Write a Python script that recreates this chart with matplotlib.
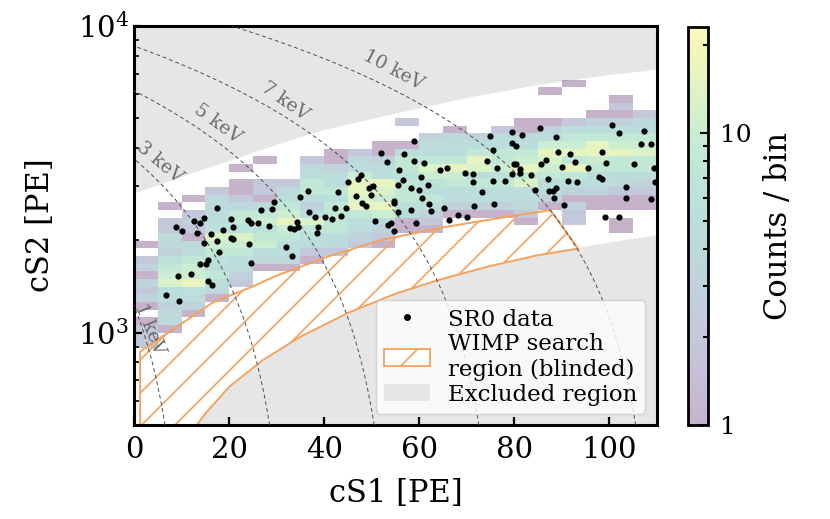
import numpy as np
import matplotlib
matplotlib.use("Agg")
import matplotlib.pyplot as plt
from matplotlib.colors import LogNorm
from matplotlib.patches import Patch, Polygon
from matplotlib.lines import Line2D
from matplotlib.ticker import NullFormatter

plt.rcParams['font.family'] = 'serif'
plt.rcParams['font.serif'] = ['DejaVu Serif']
plt.rcParams['mathtext.fontset'] = 'dejavuserif'
plt.rcParams['hatch.linewidth'] = 1.2

# SR0 events (cS1, cS2)
cs1 = [17.5, 26.7, 14.7, 12.6, 13.8, 20.4, 23.9, 24.7, 26.1, 28.3, 8.9, 10.2, 20.8, 18.7, 13.3, 16.1,
       20.5, 20.8, 17.5, 14.7, 24.1, 17.9, 15.6, 13.8, 15.2, 24.6, 11.9, 9.3, 15.6, 16.4, 6.8, 9.5,
       51.9, 53.3, 55.8, 47.7, 47.1, 45.1, 50.3, 49.4, 55.6, 36.7, 42.9, 34.9, 46.7, 49.9, 29.5, 54.7,
       54.7, 47.9, 48.8, 29.0, 42.3, 44.5, 36.8, 55.5, 38.0, 40.1, 43.6, 41.7, 34.3, 32.8, 33.7, 34.6,
       38.8, 38.4, 50.7, 54.1, 53.4, 54.6, 31.9, 33.2,
       79.6, 81.7, 74.9, 58.9, 79.6, 80.3, 75.6, 56.9, 74.3, 58.9, 61.1, 80.0, 80.4, 81.1, 81.3, 64.4,
       65.8, 76.3, 69.6, 71.4, 79.6, 60.4, 56.5, 71.4, 75.5, 78.0, 61.9, 58.3, 59.9, 73.3, 60.6, 62.0,
       75.8, 71.6, 58.3, 62.5, 65.2, 68.1, 70.0, 66.2, 59.4,
       85.5, 100.6, 102.0, 107.2, 88.8, 106.7, 108.8, 89.2, 91.8, 98.5, 86.6, 85.6, 92.7, 99.2, 105.2,
       90.0, 95.6, 109.4, 83.5, 97.9, 98.5, 87.1, 91.3, 93.2, 109.5, 88.8, 84.3, 87.4, 88.2, 103.4,
       88.4, 103.5, 108.8, 90.5, 99.1, 102.0]
cs2 = [2541, 2506, 2361, 2317, 2275, 2344, 2328, 2275, 2286, 2228, 2218, 2148, 2203, 2158, 2113, 2096,
       2029, 2018, 1995, 1968, 1950, 1837, 1730, 1675, 1671, 1683, 1556, 1535, 1472, 1435, 1331, 1264,
       3864, 3606, 3404, 3273, 3162, 3092, 3018, 2972, 3027, 2906, 2876, 2780, 2799, 2805, 2667, 2690,
       2643, 2643, 2590, 2529, 2559, 2541, 2467, 2467, 2377, 2388, 2405, 2344, 2297, 2191, 2177, 2218,
       2203, 2118, 2312, 2286, 2248, 2153, 1905, 1782,
       4508, 4396, 4375, 4227, 4159, 4055, 3954, 3811, 3625, 3625, 3581, 3536, 3556, 3427, 3326, 3404,
       3434, 3434, 3326, 3283, 3283, 3214, 3148, 3111, 3119, 3133, 3027, 2958, 2911, 2876, 2748, 2636,
       2636, 2588, 2512, 2494, 2541, 2415, 2375, 2333, 2286,
       4656, 4745, 4485, 4539, 4355, 4111, 4121, 3890, 3831, 3870, 3648, 3556, 3606, 3581, 3556,
       3475, 3451, 3451, 3273, 3214, 3177, 3162, 3133, 3111, 3111, 2972, 2911, 2897, 2897, 2979,
       2742, 2742, 2729, 2612, 2377, 2377]

# 2D histogram: 5 PE columns, rows of 0.025 in log10(cS2) from 10^2.7
x_edges = np.arange(0, 115, 5)
y_edges = 10 ** (2.7 + 0.025 * np.arange(53))
first_row = [10, 12, 14, 16, 18, 20, 20, 21, 22, 23, 23, 25, 25, 27, 27, 27, 26, 28, 26, 28, 25, 28]
col_counts = [
    [2, 2, 2, 1, 0, 1, 3, 2, 3, 1, 3, 2, 0, 1],
    [1, 4, 4, 3, 5, 5, 13, 10, 8, 6, 3, 4, 4, 2, 2, 0, 1],
    [1, 3, 5, 6, 16, 10, 10, 8, 5, 4, 1, 2, 3, 2, 0, 1],
    [1, 4, 5, 8, 5, 6, 8, 10, 13, 6, 5, 5, 4, 4, 2],
    [2, 3, 5, 5, 8, 10, 13, 6, 8, 8, 4, 2, 1, 1, 0, 1],
    [1, 4, 5, 10, 8, 6, 10, 8, 4, 1, 2, 2, 0, 0, 1],
    [1, 4, 5, 5, 8, 10, 16, 10, 8, 5, 4, 2],
    [1, 2, 5, 5, 8, 13, 5, 3, 5, 8, 8, 5, 4, 2],
    [2, 4, 5, 8, 8, 8, 8, 5, 8, 5, 5, 3, 1, 1],
    [2, 3, 5, 5, 8, 16, 13, 16, 16, 10, 5, 4, 2],
    [1, 2, 3, 4, 10, 16, 10, 13, 16, 5, 5, 3, 1, 1],
    [1, 1, 5, 5, 8, 8, 8, 6, 8, 8, 5, 1, 0, 0, 2],
    [1, 2, 3, 5, 8, 5, 6, 10, 13, 8, 5, 5, 3],
    [1, 3, 5, 5, 8, 10, 16, 8, 5, 5, 4, 1],
    [1, 3, 5, 5, 8, 5, 13, 16, 8, 5, 3],
    [1, 3, 5, 5, 8, 6, 10, 8, 8, 5, 5, 2],
    [1, 2, 4, 5, 5, 13, 8, 16, 10, 8, 5, 4, 1, 1],
    [1, 3, 5, 5, 8, 10, 13, 16, 10, 5, 3, 1, 0, 0, 0, 1],
    [2, 2, 3, 1, 3, 5, 8, 16, 8, 16, 10, 8, 5, 2, 0, 0, 0, 0, 1],
    [1, 1, 3, 5, 5, 8, 10, 16, 16, 8, 5, 3, 1],
    [1, 1, 0, 1, 1, 2, 4, 5, 8, 8, 16, 10, 8, 5, 3, 1, 2, 1],
    [1, 1, 2, 3, 5, 8, 8, 13, 10, 8, 5, 4, 2],
]

# excluded region boundaries
upper_x = [0, 10, 20, 30, 40, 55, 70, 85, 100, 110]
upper_y = [2860, 3230, 3650, 4120, 4600, 5200, 5850, 6450, 6950, 7230]
lower_x = [10, 12, 15, 20, 27, 35, 45, 55, 65, 75, 85, 95, 110]
lower_y = [415, 470, 545, 665, 812, 970, 1160, 1340, 1500, 1650, 1790, 1920, 2090]

# WIMP search region (blinded)
roi_top_x = [1.3, 5, 10, 16.7, 25, 30, 41, 52, 65, 80, 87.6]
roi_top_y = [868, 950, 1070, 1258, 1415, 1535, 1775, 2005, 2205, 2410, 2508]
roi_bot_x = [93.4, 85, 75, 65, 55, 45, 35, 27, 20, 15, 12, 10, 1.3]
roi_bot_y = [1880, 1790, 1650, 1500, 1340, 1160, 970, 812, 665, 545, 470, 415, 415]

# energy contours
g1, g2, W = 0.1507, 16.85, 0.0137
energies = [1, 3, 5, 7, 10]
e_label_x = [3.4, 5.5, 17.7, 31.8, 54.5]
e_label_y = [1030, 3590, 4806, 5665, 7194]
e_label_rot = [-68, -40, -36, -35, -28]

orange = '#f4a25e'
gray = '#e6e6e6'

fig = plt.figure(figsize=(8.3, 5.19), dpi=100)
ax = fig.add_axes([0.1614, 0.1811, 0.6301, 0.7688])
cax = fig.add_axes([0.8289, 0.1811, 0.0241, 0.767])

ax.fill_between(upper_x, upper_y, 1e4, color=gray, lw=0, zorder=0)
ax.fill_between(lower_x, 100, lower_y, color=gray, lw=0, zorder=0)

H = np.zeros((len(y_edges) - 1, len(x_edges) - 1))
for c, (r0, vals) in enumerate(zip(first_row, col_counts)):
    H[r0:r0 + len(vals), c] = vals
H = np.ma.masked_equal(H, 0)
mesh = ax.pcolormesh(x_edges, y_edges, H, cmap='viridis', norm=LogNorm(1, 23), alpha=0.3, zorder=1)

roi_pts = list(zip(roi_top_x, roi_top_y)) + list(zip(roi_bot_x, roi_bot_y))
ax.add_patch(Polygon(roi_pts, closed=True, facecolor='none', edgecolor=orange, hatch='/', lw=1.4, zorder=2))

s2 = np.logspace(2.5, 4, 200)
for E, lx, ly, rot in zip(energies, e_label_x, e_label_y, e_label_rot):
    s1 = g1 * (E / W - s2 / g2)
    ax.plot(s1, s2, color='0.3', lw=0.7, ls=(0, (4, 3)), zorder=3)
    ax.text(lx, ly, '%d keV' % E, color='0.42', fontsize=13.5, rotation=rot,
            ha='center', va='center', zorder=3)

ax.scatter(cs1, cs2, s=20, c='k', lw=0, zorder=5)

ax.set_yscale('log')
ax.set_xlim(0, 110)
ax.set_ylim(500, 1e4)
ax.set_xticks([0, 20, 40, 60, 80, 100])
ax.set_xlabel('cS1 [PE]', fontsize=22, labelpad=10)
ax.set_ylabel('cS2 [PE]', fontsize=22, labelpad=16)
ax.tick_params(which='both', direction='in', top=False, right=False, labelsize=21)
ax.tick_params(axis='x', pad=8)
ax.tick_params(which='major', length=6, width=1.6)
ax.tick_params(which='minor', length=3.5, width=1.2)
for sp in ax.spines.values():
    sp.set_linewidth(2.2)

handles = [Line2D([], [], marker='o', color='k', ls='none', markersize=4),
           Patch(facecolor='white', edgecolor=orange, hatch='/', lw=1.3),
           Patch(facecolor=gray, edgecolor='none')]
labels = ['SR0 data', 'WIMP search\nregion (blinded)', 'Excluded region']
ax.legend(handles, labels, loc='lower right', fontsize=16.5, labelspacing=0.12,
          handletextpad=0.8, borderpad=0.35)

cb = fig.colorbar(mesh, cax=cax)
cb.set_ticks([1, 10])
cb.set_ticklabels(['1', '10'])
cb.ax.yaxis.set_minor_formatter(NullFormatter())
cb.ax.tick_params(which='both', direction='in', labelsize=18, width=1.5, pad=9)
cb.ax.tick_params(which='major', length=6)
cb.ax.tick_params(which='minor', length=3.5)
cb.outline.set_linewidth(2)
cb.set_label('Counts / bin', fontsize=22, labelpad=8)

fig.savefig('out.png', dpi=100)
